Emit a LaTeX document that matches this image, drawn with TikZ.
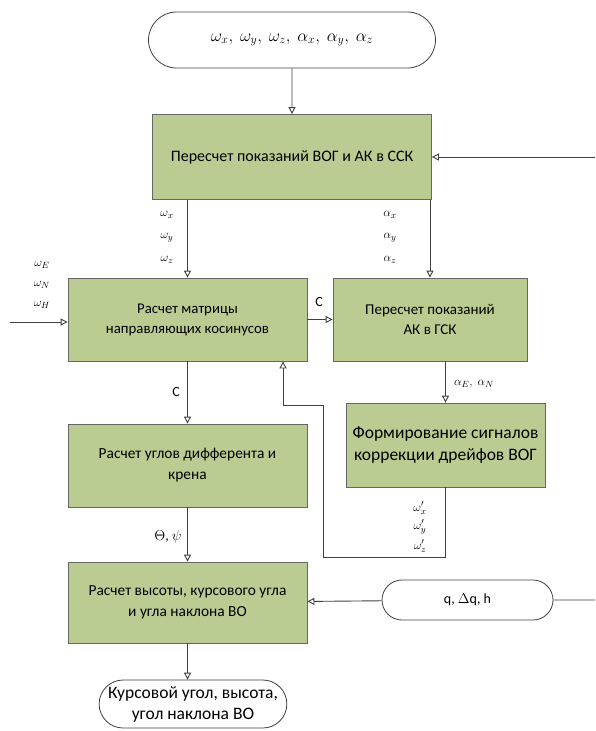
\documentclass[tikz,border=0pt]{standalone}
\usepackage{fontspec}
\setmainfont{Carlito}
\usetikzlibrary{arrows.meta,shapes.misc}
\begin{document}
\begin{tikzpicture}[x=1pt,y=-1pt,
    blk/.style={draw=black!60, line width=0.8pt, fill=blkgreen, align=center,
        inner sep=2pt},
    term/.style={rounded rectangle, draw=black!75, line width=0.8pt, fill=white,
        align=center, inner sep=2pt},
    link/.style={draw=black!75, line width=0.9pt,
        -{Triangle[open,length=7pt,width=7pt]}},
    wire/.style={draw=black!75, line width=0.9pt},
    sig/.style={font=\fontsize{13}{15}\selectfont, inner sep=1pt}]
    \definecolor{blkgreen}{RGB}{186,204,145}

    \useasboundingbox (0,0) rectangle (595,731);

    % terminals
    \node[term, minimum width=291, minimum height=56, font=\fontsize{17.5}{21}\selectfont] (inp) at (292,40)
        {$\omega_x,\ \omega_y,\ \omega_z,\ \alpha_x,\ \alpha_y,\ \alpha_z$};
    \node[term, minimum width=175, minimum height=40, font=\fontsize{14}{17}\selectfont] (qdh) at (467.5,600)
        {q, $\Delta$q, h};
    \node[term, minimum width=180, minimum height=48, font=\fontsize{17.5}{21}\selectfont,
        inner sep=1pt] (res) at (193,704)
        {Курсовой угол, высота,\\угол наклона ВО};

    % blocks
    \node[blk, minimum width=279, minimum height=85, font=\fontsize{16}{20}\selectfont] (ssk) at (292,157)
        {Пересчет показаний ВОГ и АК в ССК};
    \node[blk, minimum width=239, minimum height=83, font=\fontsize{14.8}{20}\selectfont] (dcm) at (187.5,319.5)
        {Расчет матрицы\\направляющих косинусов};
    \node[blk, minimum width=194, minimum height=83, font=\fontsize{15}{20}\selectfont] (gsk) at (430,319.5)
        {Пересчет показаний\\АК в ГСК};
    \node[blk, minimum width=199, minimum height=84, font=\fontsize{17.5}{22}\selectfont] (corr) at (445.5,445)
        {Формирование сигналов\\коррекции дрейфов ВОГ};
    \node[blk, minimum width=239, minimum height=83, font=\fontsize{15.4}{21}\selectfont] (angl) at (187.5,465.5)
        {Расчет углов дифферента и\\крена};
    \node[blk, minimum width=239, minimum height=81, font=\fontsize{15.4}{21}\selectfont] (head) at (187.5,602.5)
        {Расчет высоты, курсового угла\\и угла наклона ВО};

    % free ends
    \coordinate (rin) at (595,157);
    \coordinate (lin) at (10,322);
    \coordinate (qin) at (595,600);
    \coordinate (fb1) at (323,557);
    \coordinate (fb2) at (323,405);
    \coordinate (fb3) at (283,405);

    % connectors
    \draw[link] (inp) -- (ssk);
    \draw[link] (rin) -- (ssk.east);
    \draw[link] (ssk.south -| dcm) -- (dcm);
    \draw[link] (ssk.south -| gsk) -- (gsk);
    \draw[link] (lin) -- (lin -| dcm.west);
    \draw[link] (dcm) -- (gsk);
    \draw[link] (gsk.south -| corr) -- (corr);
    \draw[link] (corr.south) |- (fb1) -- (fb2) -- (fb3) -- (fb3 |- dcm.south);
    \draw[link] (dcm) -- (angl);
    \draw[link] (angl) -- (head);
    \draw[link] (qdh) -- (head);
    \draw[wire] (qin) -- (qdh);
    \draw[link] (head.south) -- (head.south |- res.north);

    % signal labels
    \node[sig] (wx) at (167,215) {$\omega_x$};
    \node[sig] (wy) at (167,238) {$\omega_y$};
    \node[sig] (wz) at (167,260) {$\omega_z$};
    \node[sig] (ax) at (390,215) {$\alpha_x$};
    \node[sig] (ay) at (390,238) {$\alpha_y$};
    \node[sig] (az) at (390,260) {$\alpha_z$};
    \node[sig] (we) at (42,265) {$\omega_E$};
    \node[sig] (wn) at (42,285) {$\omega_N$};
    \node[sig] (wh) at (42,305) {$\omega_H$};
    \node[sig] (aen) at (474,384) {$\alpha_E,\ \alpha_N$};
    \node[sig] (cx) at (420,508) {$\omega_x'$};
    \node[sig] (cy) at (420,527) {$\omega_y'$};
    \node[sig] (cz) at (420,546) {$\omega_z'$};
    \node[sig, font=\fontsize{14}{16}\selectfont] (c1) at (319,302) {C};
    \node[sig, font=\fontsize{14}{16}\selectfont] (c2) at (176,392) {C};
    \node[sig, font=\fontsize{14}{16}\selectfont] (tp) at (168,537) {$\Theta$, $\psi$};
\end{tikzpicture}
\end{document}
